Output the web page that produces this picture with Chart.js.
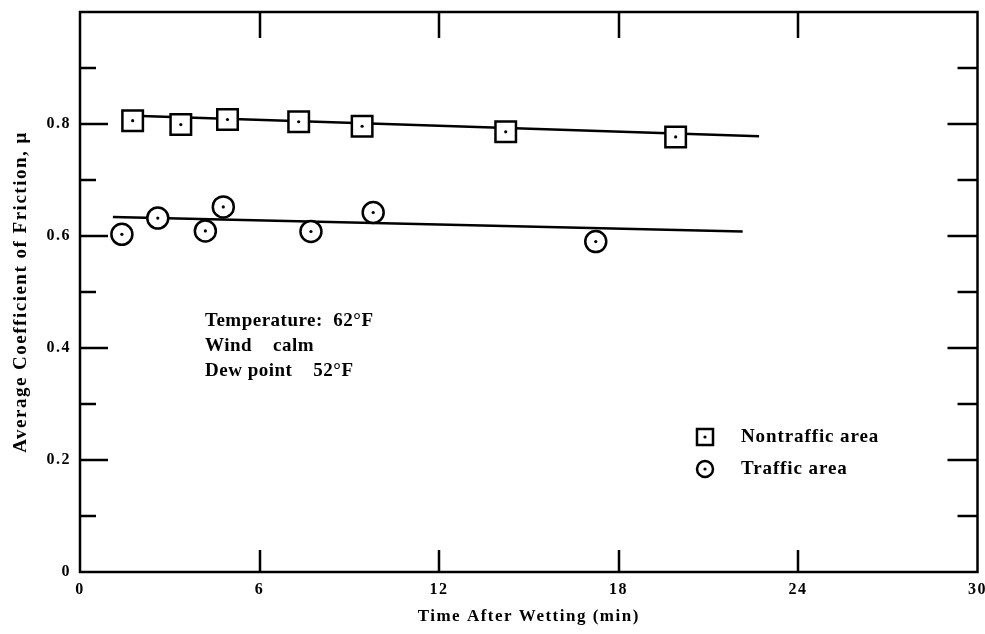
<!DOCTYPE html>
<html>
<head>
<meta charset="utf-8">
<script src="https://cdn.jsdelivr.net/npm/chart.js@4/dist/chart.umd.min.js"></script>
<style>
  html, body { margin: 0; padding: 0; background: #fff; }
  #wrap { width: 985px; height: 634px; }
</style>
</head>
<body>
<div id="wrap"><canvas id="frictionChart" width="985" height="634"></canvas></div>
<script>
// values
const nontrafficTime = [1.76, 3.37, 4.93, 7.31, 9.43, 14.23, 19.91];
const nontrafficMu = [0.806, 0.799, 0.808, 0.804, 0.796, 0.786, 0.777];
const trafficTime = [1.40, 2.60, 4.19, 4.79, 7.72, 9.80, 17.24];
const trafficMu = [0.603, 0.632, 0.609, 0.652, 0.608, 0.642, 0.590];

// fitted lines (end points)
const nontrafficFitTime = [1.54, 22.7];
const nontrafficFitMu = [0.815, 0.778];
const trafficFitTime = [1.10, 22.15];
const trafficFitMu = [0.634, 0.608];

const xTicks = [0, 6, 12, 18, 24, 30];
const yTicks = [0, 0.2, 0.4, 0.6, 0.8];
const yMinorTicks = [0.1, 0.2, 0.3, 0.4, 0.5, 0.6, 0.7, 0.8, 0.9];
const noteLines = ['Temperature:  62°F', 'Wind    calm', 'Dew point    52°F'];
const legendLabels = ['Nontraffic area', 'Traffic area'];

const SERIF = '"Liberation Serif", "Times New Roman", serif';
const SPACING = '1.5px';

function pts(xs, ys) {
    return xs.map(function(x, i) { return { x: x, y: ys[i] }; });
}

// the scanned lettering is widely spaced
const spacingPlugin = {
    id: 'spacing',
    beforeLayout: function(chart) { chart.ctx.letterSpacing = SPACING; },
    beforeDraw: function(chart) { chart.ctx.letterSpacing = SPACING; }
};

// frame, inward ticks, note text and legend
const framePlugin = {
    id: 'frame',
    afterDraw: function(chart) {
        const ctx = chart.ctx;
        const a = chart.chartArea;
        const xs = chart.scales.x;
        const ys = chart.scales.y;
        ctx.save();
        ctx.strokeStyle = '#000';
        ctx.lineWidth = 2.5;
        ctx.strokeRect(a.left, a.top, a.right - a.left, a.bottom - a.top);

        yMinorTicks.forEach(function(v) {
            const y = Math.round(ys.getPixelForValue(v));
            const major = Math.round(v * 10) % 2 === 0;
            ctx.beginPath();
            ctx.moveTo(a.left, y);
            ctx.lineTo(a.left + (major ? 28 : 16), y);
            ctx.moveTo(a.right, y);
            ctx.lineTo(a.right - (major ? 30 : 20), y);
            ctx.stroke();
        });
        xTicks.slice(1, -1).forEach(function(v) {
            const x = Math.round(xs.getPixelForValue(v));
            ctx.beginPath();
            ctx.moveTo(x, a.top);
            ctx.lineTo(x, a.top + 26);
            ctx.moveTo(x, a.bottom);
            ctx.lineTo(x, a.bottom - 22);
            ctx.stroke();
        });

        // conditions note
        ctx.fillStyle = '#000';
        ctx.letterSpacing = '0.5px';
        ctx.font = 'bold 19px ' + SERIF;
        ctx.textBaseline = 'middle';
        ctx.textAlign = 'left';
        noteLines.forEach(function(t, i) {
            ctx.fillText(t, 205, 321 + i * 25);
        });

        // legend
        const lx = 705;
        const ly = [437, 469];
        ctx.beginPath();
        ctx.rect(lx - 8, ly[0] - 8, 16, 16);
        ctx.stroke();
        ctx.beginPath();
        ctx.arc(lx, ly[1], 8, 0, Math.PI * 2);
        ctx.stroke();
        ly.forEach(function(y) {
            ctx.beginPath();
            ctx.arc(lx, y, 1.6, 0, Math.PI * 2);
            ctx.fill();
        });
        ctx.letterSpacing = '0.9px';
        legendLabels.forEach(function(t, i) {
            ctx.fillText(t, 741, ly[i]);
        });
        ctx.restore();
    }
};

new Chart(document.getElementById('frictionChart'), {
    type: 'scatter',
    data: {
        datasets: [
            {
                label: 'Nontraffic dots',
                data: pts(nontrafficTime, nontrafficMu),
                pointStyle: 'circle', pointRadius: 1.6,
                backgroundColor: '#000', borderWidth: 0, order: 0
            },
            {
                label: 'Traffic dots',
                data: pts(trafficTime, trafficMu),
                pointStyle: 'circle', pointRadius: 1.6,
                backgroundColor: '#000', borderWidth: 0, order: 0
            },
            {
                label: 'Nontraffic area',
                data: pts(nontrafficTime, nontrafficMu),
                pointStyle: 'rect', pointRadius: 14.5,
                backgroundColor: '#fff', borderColor: '#000', borderWidth: 2.5, order: 1
            },
            {
                label: 'Traffic area',
                data: pts(trafficTime, trafficMu),
                pointStyle: 'circle', pointRadius: 10.5,
                backgroundColor: '#fff', borderColor: '#000', borderWidth: 2.5, order: 1
            },
            {
                type: 'line',
                label: 'Nontraffic fit',
                data: pts(nontrafficFitTime, nontrafficFitMu),
                borderColor: '#000', borderWidth: 2.5, pointRadius: 0, order: 2
            },
            {
                type: 'line',
                label: 'Traffic fit',
                data: pts(trafficFitTime, trafficFitMu),
                borderColor: '#000', borderWidth: 2.5, pointRadius: 0, order: 2
            }
        ]
    },
    options: {
        responsive: false,
        animation: false,
        layout: { autoPadding: false, padding: { left: 0, right: 0, top: 12, bottom: 0 } },
        plugins: {
            legend: { display: false },
            tooltip: { enabled: false }
        },
        scales: {
            x: {
                type: 'linear',
                min: 0, max: 30,
                afterFit: function(s) { s.height = 62; },
                afterBuildTicks: function(s) { s.ticks = xTicks.map(function(v) { return { value: v }; }); },
                grid: { display: true, drawOnChartArea: false, drawTicks: true, tickLength: 10, color: 'rgba(0,0,0,0)' },
                border: { display: false },
                ticks: {
                    color: '#000', padding: -2,
                    font: { family: SERIF, size: 16, weight: 'bold' }
                },
                title: {
                    display: true, text: 'Time After Wetting (min)', color: '#000',
                    font: { family: SERIF, size: 17, weight: 'bold' },
                    padding: { top: 0, bottom: 7 }
                }
            },
            y: {
                type: 'linear',
                min: 0, max: 1.0,
                afterFit: function(s) { s.width = 80; },
                afterBuildTicks: function(s) { s.ticks = yTicks.map(function(v) { return { value: v }; }); },
                grid: { display: true, drawOnChartArea: false, drawTicks: true, tickLength: 11, color: 'rgba(0,0,0,0)' },
                border: { display: false },
                ticks: {
                    color: '#000', padding: -2,
                    font: { family: SERIF, size: 16, weight: 'bold' },
                    callback: function(v) { return v === 0 ? '0' : v.toFixed(1); }
                },
                title: {
                    display: true, text: 'Average Coefficient of Friction, μ', color: '#000',
                    font: { family: SERIF, size: 19, weight: 'bold' },
                    padding: { top: 10, bottom: 0 }
                }
            }
        }
    },
    plugins: [spacingPlugin, framePlugin]
});
</script>
</body>
</html>
